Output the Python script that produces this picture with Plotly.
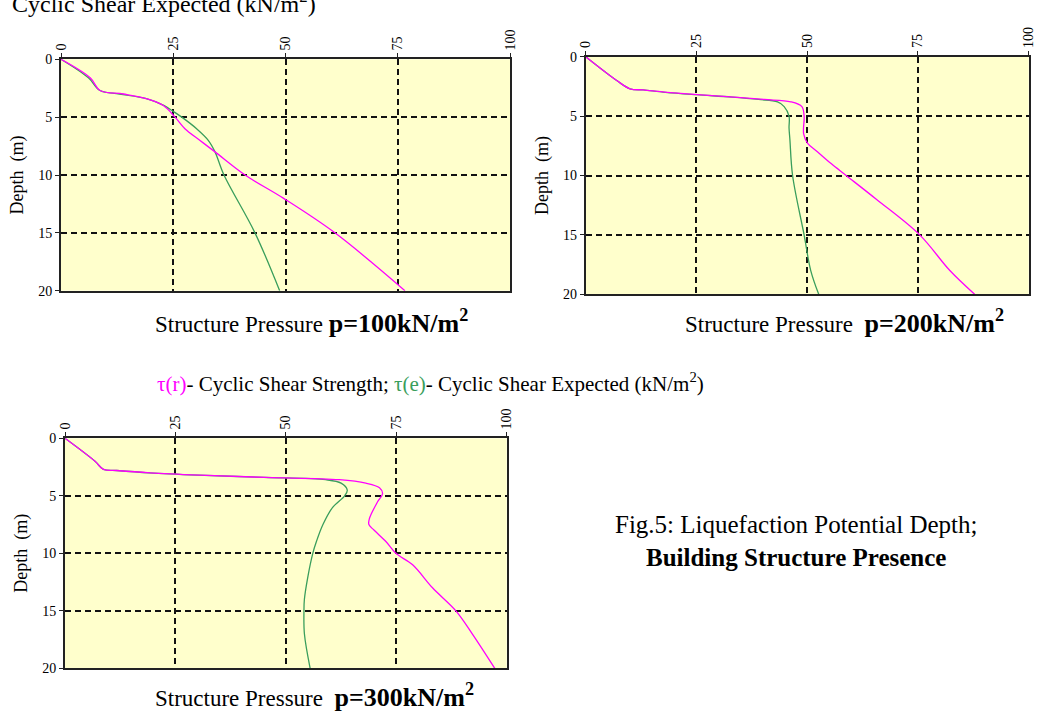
import plotly.graph_objects as go

# ---------------- data ----------------
# Panel 1: p = 100 kN/m2
depth1_r = [0, 1.6, 2.7, 3.0, 3.4, 4.0, 5.0, 6.0, 7.0, 8.0, 10.0, 12.0, 15.0, 20.0]
tau_r1 = [0, 6.5, 8.7, 13.9, 19.0, 22.8, 25.4, 27.6, 30.9, 34.3, 41.0, 49.5, 61.0, 76.6]
depth1_e = [0, 1.6, 2.7, 3.0, 3.4, 4.0, 4.5, 5.0, 6.0, 7.0, 8.0, 10.0, 15.0, 20.0]
tau_e1 = [0, 6.1, 8.7, 13.0, 19.0, 23.0, 25.0, 26.9, 30.2, 32.8, 34.3, 36.3, 43.2, 48.7]

# Panel 2: p = 200 kN/m2
depth2_r = [0, 2.0, 2.7, 2.8, 3.0, 3.2, 3.4, 3.6, 3.8, 4.2, 5.0, 6.5, 7.3, 8.0, 9.0, 10.0, 12.0, 15.0, 18.0, 20.0]
tau_r2 = [0, 7.0, 10.0, 13.0, 18.4, 25.2, 33.5, 40.3, 46.3, 48.8, 49.3, 49.2, 50.1, 52.3, 55.4, 58.8, 65.6, 75.4, 82.2, 87.8]
depth2_e = [0, 2.0, 2.7, 2.8, 3.0, 3.2, 3.4, 3.6, 3.8, 4.2, 5.0, 6.0, 7.0, 10.0, 15.0, 18.0, 20.0]
tau_e2 = [0, 7.0, 10.0, 13.0, 18.0, 25.0, 33.0, 39.0, 43.3, 44.8, 45.9, 45.9, 46.1, 46.7, 49.3, 50.8, 52.6]

# Panel 3: p = 300 kN/m2
depth3_r = [0, 2.0, 2.7, 2.8, 3.0, 3.2, 3.4, 3.6, 3.9, 4.3, 4.8, 5.5, 7.0, 7.5, 8.0, 9.0, 10.0, 11.0, 13.0, 15.0, 17.0, 20.0]
tau_r3 = [0, 6.8, 8.7, 11.7, 19.2, 30.5, 45.6, 62.1, 68.1, 71.2, 71.9, 70.8, 68.9, 68.8, 70.0, 72.7, 74.9, 78.7, 83.2, 88.5, 92.2, 97.3]
depth3_e = [0, 2.0, 2.7, 2.8, 3.0, 3.2, 3.4, 3.6, 3.9, 4.5, 5.0, 6.0, 7.5, 9.0, 10.0, 12.0, 14.0, 15.0, 17.0, 20.0]
tau_e3 = [0, 6.8, 8.7, 11.7, 19.0, 30.0, 45.0, 59.0, 62.5, 63.9, 63.3, 60.6, 58.4, 56.9, 56.1, 55.0, 54.2, 54.1, 54.2, 55.5]

x_ticks = [0, 25, 50, 75, 100]
y_ticks = [0, 5, 10, 15, 20]

MAGENTA = "#FF00FF"
GREEN = "#3A9E5C"
SERIF = "Liberation Serif"

W, H = 1042, 712

def dom_x(a, b):
    return [a / W, b / W]

def dom_y(top, bottom):
    return [1 - bottom / H, 1 - top / H]

panels = [
    dict(x=dom_x(61, 510), y=dom_y(59.3, 290.7), r=(depth1_r, tau_r1), e=(depth1_e, tau_e1)),
    dict(x=dom_x(585.7, 1028.7), y=dom_y(56.7, 294.3), r=(depth2_r, tau_r2), e=(depth2_e, tau_e2)),
    dict(x=dom_x(65, 506.7), y=dom_y(438.3, 668.3), r=(depth3_r, tau_r3), e=(depth3_e, tau_e3)),
]

fig = go.Figure()
layout = dict(
    width=W, height=H,
    margin=dict(l=0, r=0, t=0, b=0, autoexpand=False),
    paper_bgcolor="white",
    plot_bgcolor="#FFFFCC",
    showlegend=False,
    font=dict(family=SERIF, color="black"),
)

GRID_DASH = "6px,4px"

for i, p in enumerate(panels):
    n = "" if i == 0 else str(i + 1)
    xa, ya = "x" + n, "y" + n
    fig.add_trace(go.Scatter(x=p["e"][1], y=p["e"][0], mode="lines", xaxis=xa, yaxis=ya,
                             line=dict(color=GREEN, width=1.3), line_shape="spline"))
    fig.add_trace(go.Scatter(x=p["r"][1], y=p["r"][0], mode="lines", xaxis=xa, yaxis=ya,
                             line=dict(color=MAGENTA, width=1.3), line_shape="spline"))
    layout["xaxis" + n] = dict(
        domain=p["x"], anchor=ya, side="top", range=[0, 100], automargin=False,
        tickvals=x_ticks, ticktext=[str(v) for v in x_ticks], tickangle=-90,
        tickfont=dict(family=SERIF, size=14, color="black"),
        showgrid=True, gridcolor="#111111", griddash=GRID_DASH, gridwidth=2,
        showline=True, linecolor="#222222", linewidth=2, mirror=True,
        ticks="outside", ticklen=4, tickcolor="#222222", zeroline=False,
    )
    layout["yaxis" + n] = dict(
        domain=p["y"], anchor=xa, range=[20, 0], automargin=False,
        tickvals=y_ticks, ticktext=[str(v) for v in y_ticks],
        tickfont=dict(family=SERIF, size=14, color="black"),
        title=dict(text="Depth  (m)", font=dict(family=SERIF, size=18, color="black"), standoff=10),
        showgrid=True, gridcolor="#111111", griddash=GRID_DASH, gridwidth=2,
        showline=True, linecolor="#222222", linewidth=2, mirror=True,
        ticks="outside", ticklen=4, tickcolor="#222222", zeroline=False,
    )

fig.update_layout(**layout)

def ann(text, x, y, size=23, xanchor="left", yanchor="middle"):
    fig.add_annotation(text=text, x=x / W, y=1 - y / H, xref="paper", yref="paper",
                       xanchor=xanchor, yanchor=yanchor, showarrow=False,
                       font=dict(family=SERIF, size=size, color="black"), align="center")

def caption(p_text, x, y, gap=" "):
    return ann("Structure Pressure" + gap +
               '<span style="font-size:26px"><b>%s</b></span>' % p_text, x, y)

ann("Cyclic Shear Expected (kN/m<sup>2</sup>)", 318, 2, size=24, xanchor="right")
caption("p=100kN/m<sup>2</sup>", 153, 321)
caption("p=200kN/m<sup>2</sup>", 683, 321, gap="  ")
ann('<span style="color:%s">τ(r)</span>- Cyclic Shear Strength; '
    '<span style="color:%s">τ(e)</span>- Cyclic Shear Expected (kN/m<sup>2</sup>)' % (MAGENTA, GREEN),
    155, 383, size=21)
caption("p=300kN/m<sup>2</sup>", 153, 695, gap="  ")
ann("Fig.5: Liquefaction Potential Depth;<br><b>Building Structure Presence</b>", 796, 541,
    size=25, xanchor="center")

fig.write_html("out.html")
